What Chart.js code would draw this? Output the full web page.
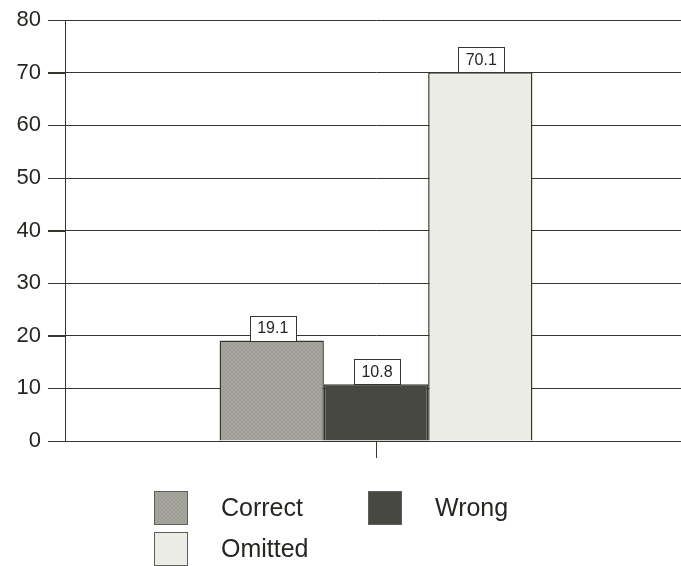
<!DOCTYPE html>
<html><head><meta charset="utf-8">
<script src="https://cdn.jsdelivr.net/npm/chart.js@4/dist/chart.umd.min.js"></script>
<style>html,body{margin:0;padding:0;background:#fff;overflow:hidden}#wrap{width:687px;height:566px}</style>
</head><body><div id="wrap"><canvas id="c" width="687" height="566"></canvas></div>
<script>
// Share of answers by outcome (percent)
const categories = [''];
const seriesNames = ['Correct', 'Wrong', 'Omitted'];
const correctValues = [19.1];
const wrongValues = [10.8];
const omittedValues = [70.1];
const yTickValues = [0, 10, 20, 30, 40, 50, 60, 70, 80];

const INK = '#36362f';
const FILLS = ['#a5a59d', '#4a4a43', '#efefea'];
const FONT = '"Liberation Sans", Arial, sans-serif';
const TEXT = '#262622';
const TICK_LEN = 17;

// Small deterministic stipple so the fills have a printed-dot texture
function stipple(base, dot) {
  const c = document.createElement('canvas');
  c.width = 4; c.height = 4;
  const g = c.getContext('2d');
  g.fillStyle = base; g.fillRect(0, 0, 4, 4);
  g.fillStyle = dot;
  [[0,0],[2,1],[1,2],[3,3]].forEach(([x, y]) => g.fillRect(x, y, 1, 1));
  return g.createPattern(c, 'repeat');
}
const patterns = [
  stipple(FILLS[0], '#97978f'),
  stipple(FILLS[1], '#41413b'),
  stipple(FILLS[2], '#e3e3de')
];

// Boxed value labels sitting on top of each bar
const valueBoxes = {
  id: 'valueBoxes',
  afterDatasetsDraw(chart) {
    const ctx = chart.ctx;
    ctx.save();
    chart.data.datasets.forEach((ds, i) => {
      chart.getDatasetMeta(i).data.forEach((bar, j) => {
        const w = 46, h = 25;
        const x = Math.round(bar.x - w / 2 + 1) + 0.5;
        const y = Math.round(bar.y - h) + 0.5;
        ctx.fillStyle = '#fff';
        ctx.fillRect(x, y, w, h);
        ctx.strokeStyle = INK; ctx.lineWidth = 1;
        ctx.strokeRect(x, y, w, h);
        ctx.fillStyle = TEXT;
        ctx.font = '16px ' + FONT;
        ctx.textAlign = 'center'; ctx.textBaseline = 'middle';
        ctx.fillText(ds.data[j].toFixed(1), bar.x + 1, bar.y - h / 2 + 1);
      });
    });
    ctx.restore();
  }
};

// Outward tick marks on the value axis
const yTickMarks = {
  id: 'yTickMarks',
  afterDraw(chart) {
    const ctx = chart.ctx, y = chart.scales.y, left = chart.chartArea.left;
    ctx.save();
    ctx.strokeStyle = INK; ctx.lineWidth = 1;
    ctx.beginPath();
    yTickValues.forEach(v => {
      const py = Math.round(y.getPixelForValue(v)) + 0.5;
      ctx.moveTo(left - TICK_LEN, py);
      ctx.lineTo(left, py);
    });
    ctx.stroke();
    ctx.restore();
  }
};

// Two-column legend below the plot
const gridLegend = {
  id: 'gridLegend',
  afterDraw(chart) {
    const ctx = chart.ctx;
    const slots = [[154, 491], [368, 491], [154, 532]];
    ctx.save();
    chart.data.datasets.forEach((ds, i) => {
      const [x, y] = slots[i];
      ctx.fillStyle = ds.backgroundColor;
      ctx.fillRect(x, y, 34, 34);
      ctx.strokeStyle = '#5e5e58'; ctx.lineWidth = 1;
      ctx.strokeRect(x + 0.5, y + 0.5, 33, 33);
      ctx.fillStyle = TEXT;
      ctx.font = '25px ' + FONT;
      ctx.textAlign = 'left'; ctx.textBaseline = 'middle';
      ctx.fillText(ds.label, x + 67, y + 18);
    });
    ctx.restore();
  }
};

const seriesValues = [correctValues, wrongValues, omittedValues];

new Chart(document.getElementById('c'), {
  type: 'bar',
  data: {
    labels: categories,
    datasets: seriesNames.map((name, i) => ({
      label: name,
      data: seriesValues[i],
      backgroundColor: patterns[i],
      borderColor: INK,
      borderWidth: 1.5,
      barPercentage: 1,
      categoryPercentage: 0.503
    }))
  },
  options: {
    responsive: false,
    devicePixelRatio: 1,
    animation: false,
    layout: { padding: { top: 20, left: 0, right: 0, bottom: 0 } },
    plugins: { legend: { display: false }, tooltip: { enabled: false } },
    scales: {
      x: {
        grid: { display: true, drawOnChartArea: false, offset: false, drawTicks: true, tickLength: TICK_LEN, color: INK, tickColor: INK },
        border: { display: false },
        ticks: { display: true, font: { size: 10 } },
        afterFit(s) { s.height = 125; }
      },
      y: {
        min: 0, max: 80,
        z: 1,
        afterBuildTicks(s) { s.ticks = yTickValues.map(v => ({ value: v })); },
        ticks: { color: TEXT, font: { family: FONT, size: 22 }, padding: 7 },
        grid: { color: INK, lineWidth: 1, drawTicks: true, tickLength: TICK_LEN, tickColor: INK, tickWidth: 1 },
        border: { color: INK, width: 1 },
        afterFit(s) { s.width = 65; }
      }
    }
  },
  plugins: [valueBoxes, yTickMarks, gridLegend]
});
</script>
</body></html>
